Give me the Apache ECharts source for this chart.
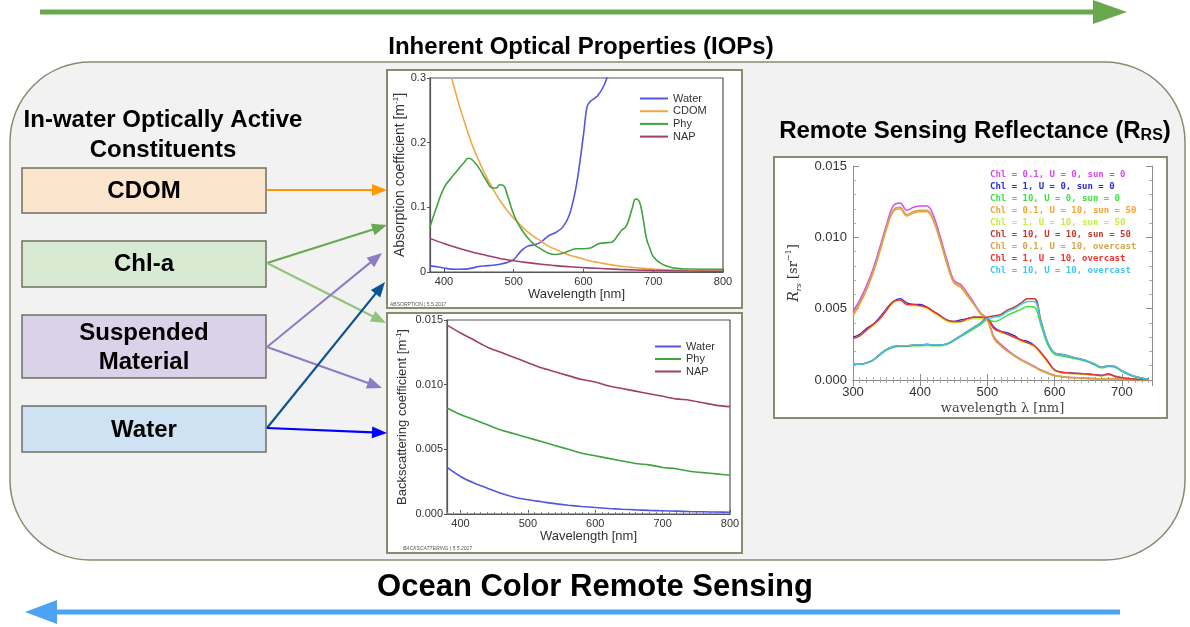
<!DOCTYPE html>
<html>
<head>
<meta charset="utf-8">
<title>Ocean Color Remote Sensing</title>
<script src="https://cdn.jsdelivr.net/npm/echarts@6/dist/echarts.min.js"></script>
<style>
  html, body { margin: 0; padding: 0; background: #ffffff; }
  #main { width: 1190px; height: 627px; }
</style>
</head>
<body>
<div id="main"></div>
<script>
// ---------- Absorption coefficients [m^-1] ----------
const absWaterWl = [380,390,400,410,420,430,440,450,460,470,480,490,500,510,520,530,540,550,560,570,580,590,600,605,610,620,630,640,650];
const absWater   = [0.0095,0.008,0.0062,0.0045,0.0043,0.0045,0.006,0.0085,0.0095,0.0105,0.012,0.0145,0.019,0.032,0.040,0.042,0.047,0.056,0.061,0.069,0.089,0.135,0.212,0.255,0.264,0.272,0.29,0.32,0.34];

const absCdomWl = [380,390,400,410,420,430,440,450,460,470,480,490,500,510,520,530,540,550,560,570,580,590,600,610,620,630,640,650,660,670,680,690,700,710,720,730,740,750,760,770,780,790,800];
const absCdom   = [0.47,0.41,0.355,0.305,0.265,0.23,0.198,0.172,0.149,0.129,0.111,0.096,0.083,0.072,0.062,0.054,0.047,0.040,0.035,0.030,0.026,0.023,0.020,0.017,0.015,0.013,0.011,0.0095,0.0082,0.0071,0.0062,0.0053,0.0046,0.004,0.0035,0.003,0.0026,0.0022,0.0019,0.0017,0.0014,0.0013,0.0011];

const absPhyWl = [380,390,400,410,420,430,435,440,450,460,470,475,480,485,490,500,510,520,530,540,550,560,570,580,590,600,610,620,630,640,650,655,660,665,670,675,680,685,690,695,700,710,720,730,750,800];
const absPhy   = [0.070,0.102,0.130,0.145,0.158,0.171,0.176,0.174,0.161,0.143,0.130,0.130,0.135,0.134,0.122,0.089,0.068,0.053,0.042,0.035,0.029,0.027,0.029,0.033,0.036,0.036,0.037,0.043,0.045,0.046,0.058,0.065,0.069,0.081,0.099,0.113,0.109,0.086,0.053,0.037,0.024,0.014,0.009,0.006,0.0046,0.004];

const absNapWl = [380,400,420,440,460,480,500,520,540,560,580,600,650,700,750,800];
const absNap   = [0.052,0.044,0.037,0.031,0.026,0.021,0.0175,0.0145,0.012,0.0098,0.0082,0.0068,0.0041,0.0025,0.0015,0.0009];

// ---------- Backscattering coefficients [m^-1] ----------
const bbWl    = [380,400,420,440,460,480,500,520,540,560,580,600,620,640,660,680,700,720,740,760,780,800];
const bbWater = [0.0036,0.0029,0.0024,0.0020,0.0016,0.0013,0.0011,0.00095,0.0008,0.00068,0.00058,0.0005,0.00043,0.00037,0.00032,0.00028,0.00025,0.00022,0.00019,0.00017,0.00015,0.00013];
const bbPhy   = [0.0082,0.0077,0.0073,0.0069,0.0065,0.0062,0.0059,0.0056,0.0053,0.0050,0.0047,0.0045,0.0043,0.0041,0.0039,0.0038,0.0036,0.0035,0.0033,0.0032,0.0031,0.0030];
const bbNap   = [0.0146,0.0140,0.01345,0.0129,0.0125,0.0121,0.0117,0.0113,0.0110,0.0107,0.0104,0.0102,0.0099,0.0097,0.0095,0.0093,0.0091,0.0089,0.0088,0.0086,0.0084,0.0083];

// ---------- Remote sensing reflectance [sr^-1] ----------
const rrsWl = [300,310,320,330,340,350,360,370,380,390,400,410,420,430,440,450,460,470,480,490,500,510,520,530,540,550,560,570,580,590,600,610,620,630,640,650,660,670,680,690,700,710,720,730,740];
const rrsChl01Clear    = [0.0048,0.0056,0.0066,0.0078,0.0093,0.0109,0.0122,0.0124,0.0119,0.0121,0.0122,0.0122,0.0115,0.0100,0.0084,0.0070,0.0067,0.0061,0.0054,0.0047,0.0043,0.0030,0.0025,0.0021,0.00175,0.00145,0.0012,0.00095,0.0007,0.0005,0.00032,0.00025,0.0002,0.00017,0.00015,0.00012,0.0001,0.00008,0.0001,0.00006,0.00005,0.00004,0.00003,0.00002,0.00002];
const rrsChl1Clear     = [0.0030,0.0032,0.0036,0.0039,0.0044,0.0050,0.0055,0.0057,0.0054,0.0053,0.0053,0.0051,0.0048,0.0045,0.0042,0.0041,0.0042,0.0043,0.0044,0.0044,0.0043,0.0037,0.0034,0.0033,0.0031,0.0028,0.0027,0.0024,0.0019,0.0013,0.0007,0.00055,0.0005,0.00047,0.00045,0.00042,0.00037,0.00032,0.00042,0.00026,0.00016,0.0001,0.00006,0.00004,0.00003];
const rrsChl10Clear    = [0.0011,0.0011,0.0012,0.0014,0.00175,0.0021,0.0023,0.00235,0.00235,0.0024,0.0024,0.00245,0.0024,0.0024,0.0025,0.00275,0.00305,0.0033,0.0036,0.0039,0.0042,0.0041,0.00425,0.00455,0.00475,0.00495,0.00515,0.0051,0.0038,0.00245,0.0018,0.0017,0.0016,0.0015,0.0014,0.00125,0.00105,0.00085,0.00095,0.0009,0.0006,0.00038,0.0002,0.0001,0.00006];
const rrsChl01Sun50    = [0.0045,0.0053,0.0063,0.0075,0.0090,0.0106,0.0118,0.0120,0.0115,0.0117,0.0118,0.0118,0.0111,0.0097,0.0081,0.0068,0.0065,0.0059,0.0053,0.0046,0.0042,0.0029,0.0024,0.0020,0.0017,0.0014,0.00115,0.0009,0.00065,0.00045,0.0003,0.00023,0.00018,0.00015,0.00013,0.0001,0.00009,0.00007,0.00009,0.00005,0.00004,0.00003,0.00002,0.00002,0.00001];
const rrsChl1Sun50     = [0.0029,0.0031,0.0035,0.0038,0.0043,0.0049,0.0054,0.0056,0.0053,0.0052,0.0052,0.0050,0.0047,0.0044,0.0041,0.0040,0.0041,0.0042,0.0043,0.0043,0.0042,0.0036,0.0033,0.0032,0.0030,0.0027,0.0026,0.0023,0.0018,0.0012,0.00065,0.0005,0.00045,0.00043,0.00041,0.00038,0.00033,0.00029,0.00038,0.00023,0.00014,0.00009,0.00005,0.00003,0.00002];
const rrsChl10Sun50    = [0.0011,0.0011,0.0012,0.0014,0.0018,0.00215,0.00235,0.0024,0.0024,0.00245,0.00245,0.0025,0.00245,0.00245,0.00255,0.0028,0.0031,0.0034,0.0037,0.0040,0.0044,0.0045,0.0046,0.0049,0.0051,0.0054,0.0057,0.0057,0.0041,0.0026,0.0019,0.0018,0.0017,0.00155,0.00145,0.0013,0.0011,0.0009,0.001,0.00095,0.00065,0.00042,0.00024,0.00013,0.00007];
const rrsChl01Overcast = [0.0046,0.0054,0.0064,0.0076,0.0091,0.0107,0.0119,0.0121,0.0116,0.0118,0.0119,0.0119,0.0112,0.0098,0.0082,0.0069,0.0066,0.0060,0.0053,0.0047,0.0042,0.0029,0.0024,0.0020,0.0017,0.0014,0.0012,0.0009,0.00068,0.00048,0.00031,0.00024,0.00019,0.00016,0.00014,0.00011,0.0001,0.00008,0.0001,0.00006,0.00005,0.00004,0.00003,0.00002,0.00002];
const rrsChl1Overcast  = [0.0029,0.0031,0.0035,0.0039,0.0043,0.0049,0.0055,0.0056,0.0053,0.0053,0.0052,0.0051,0.0048,0.0045,0.0042,0.0041,0.0041,0.0043,0.0044,0.0044,0.0043,0.0036,0.0034,0.0032,0.0030,0.0028,0.0026,0.0024,0.0019,0.0013,0.0007,0.00055,0.0005,0.00046,0.00044,0.00041,0.00036,0.00031,0.00041,0.00025,0.00015,0.0001,0.00006,0.00004,0.00003];
const rrsChl10Overcast = [0.0011,0.0011,0.0012,0.0014,0.0018,0.00215,0.00235,0.0024,0.0024,0.00245,0.00245,0.0025,0.00245,0.00245,0.00255,0.0028,0.0031,0.0034,0.0037,0.0040,0.0043,0.0044,0.0045,0.0048,0.0050,0.0053,0.0055,0.0055,0.0040,0.0026,0.0019,0.0018,0.0017,0.00155,0.00145,0.0013,0.0011,0.00088,0.001,0.00095,0.00065,0.00042,0.00024,0.00013,0.00007];

const rrsNames = [
  'Chl = 0.1, U = 0, sun = 0', 'Chl = 1, U = 0, sun = 0', 'Chl = 10, U = 0, sun = 0',
  'Chl = 0.1, U = 10, sun = 50', 'Chl = 1, U = 10, sun = 50', 'Chl = 10, U = 10, sun = 50',
  'Chl = 0.1, U = 10, overcast', 'Chl = 1, U = 10, overcast', 'Chl = 10, U = 10, overcast'
];
const rrsValues = [rrsChl01Clear, rrsChl1Clear, rrsChl10Clear, rrsChl01Sun50, rrsChl1Sun50, rrsChl10Sun50, rrsChl01Overcast, rrsChl1Overcast, rrsChl10Overcast];
const rrsColors = ['#dc48ee', '#2b2be0', '#3ee23e', '#f4a236', '#c6ee3c', '#c23a2e', '#d4a64c', '#f23030', '#3ec6f2'];

// ---------- Axis ticks ----------
const iopTicks = [400, 500, 600, 700, 800];

// ---------- helpers ----------
const zip = (xs, ys) => xs.map((x, i) => [x, ys[i]]);
const SANS = 'Liberation Sans, Arial, sans-serif';
const FRAME = '#8a8a6f';

function arrow(x1, y1, x2, y2, color, w, headLen, headHalf) {
  const dx = x2 - x1, dy = y2 - y1, len = Math.hypot(dx, dy);
  const ux = dx / len, uy = dy / len;
  const bx = x2 - ux * headLen, by = y2 - uy * headLen;
  return [
    { type: 'line', z: 20, shape: { x1, y1, x2: bx + ux, y2: by + uy }, style: { stroke: color, lineWidth: w } },
    { type: 'polygon', z: 20, shape: { points: [[x2, y2], [bx - uy * headHalf, by + ux * headHalf], [bx + uy * headHalf, by - ux * headHalf]] }, style: { fill: color } }
  ];
}

function label(text, x, y, size, extra) {
  return Object.assign({
    type: 'text', z: 20, x, y,
    style: { text, fontFamily: SANS, fontSize: size, fontWeight: 'bold', fill: '#000', align: 'center', verticalAlign: 'middle' }
  }, extra || {});
}

function box(x, y, w, h, fill) {
  return { type: 'rect', z: 5, shape: { x, y, width: w, height: h }, style: { fill, stroke: '#6f6f5f', lineWidth: 1.5 } };
}

const graphics = [
  // big rounded background
  { type: 'rect', z: -10, shape: { x: 10, y: 62, width: 1175, height: 498, r: 80 }, style: { fill: '#f2f2f2', stroke: FRAME, lineWidth: 1.5 } },
  // chart panels
  { type: 'rect', z: -9, shape: { x: 387, y: 70, width: 355, height: 238 }, style: { fill: '#ffffff', stroke: FRAME, lineWidth: 2 } },
  { type: 'rect', z: -9, shape: { x: 387, y: 313, width: 355, height: 240 }, style: { fill: '#ffffff', stroke: FRAME, lineWidth: 2 } },
  { type: 'rect', z: -9, shape: { x: 774, y: 157, width: 393, height: 261 }, style: { fill: '#ffffff', stroke: FRAME, lineWidth: 2 } },
  // top and bottom arrows
  { type: 'line', z: 20, shape: { x1: 40, y1: 12, x2: 1096, y2: 12 }, style: { stroke: '#6aa84f', lineWidth: 5 } },
  { type: 'polygon', z: 20, shape: { points: [[1093, 0], [1127, 12], [1093, 24]] }, style: { fill: '#6aa84f' } },
  { type: 'line', z: 20, shape: { x1: 1120, y1: 612, x2: 54, y2: 612 }, style: { stroke: '#4da3f3', lineWidth: 5 } },
  { type: 'polygon', z: 20, shape: { points: [[57, 600], [25, 612], [57, 624]] }, style: { fill: '#4da3f3' } },
  // headings
  label('Inherent Optical Properties (IOPs)', 581, 47, 24),
  label('Ocean Color Remote Sensing', 595, 587, 31),
  label('In-water Optically Active', 163, 120, 24),
  label('Constituents', 163, 150, 24),
  {
    type: 'text', z: 20, x: 975, y: 131,
    style: {
      text: '{a|Remote Sensing Reflectance (R}{s|RS}{a|)}',
      align: 'center', verticalAlign: 'middle', fill: '#000',
      rich: {
        a: { fontFamily: SANS, fontSize: 24, fontWeight: 'bold', lineHeight: 26, fill: '#000' },
        s: { fontFamily: SANS, fontSize: 16, fontWeight: 'bold', lineHeight: 16, verticalAlign: 'bottom', fill: '#000' }
      }
    }
  },
  // constituent boxes
  box(22, 168, 244, 45, '#fce5cd'),
  box(22, 241, 244, 46, '#d9ead3'),
  box(22, 315, 244, 63, '#d9d2e9'),
  box(22, 406, 244, 46, '#cfe2f3'),
  label('CDOM', 144, 191, 24),
  label('Chl-a', 144, 264, 24),
  label('Suspended', 144, 333, 24),
  label('Material', 144, 362, 24),
  label('Water', 144, 430, 24),
  // panel footers
  { type: 'text', z: 20, x: 390, y: 302, style: { text: 'ABSORPTION | 5.5.2017', fontFamily: SANS, fontSize: 5, fill: '#555' } },
  { type: 'text', z: 20, x: 403, y: 546, style: { text: 'BACKSCATTERING | 5.5.2017', fontFamily: SANS, fontSize: 5, fontStyle: 'italic', fill: '#555' } }
].concat(
  arrow(267, 190, 387, 190, '#ff9900', 2, 15, 6),
  arrow(267, 263, 387, 225, '#6aa84f', 2.2, 15, 6),
  arrow(267, 263, 386, 323, '#93c47d', 2.2, 15, 6),
  arrow(267, 347, 382, 253, '#8e7cc3', 2, 15, 6),
  arrow(267, 347, 382, 388, '#8e7cc3', 2, 15, 6),
  arrow(267, 428, 385, 282, '#0b5394', 2.2, 15, 6),
  arrow(267, 428, 387, 433, '#0000ff', 2.2, 15, 6)
);

// ---------- axes ----------
const iopAxisLine = { show: true, lineStyle: { color: '#555', width: 1.2 } };
const iopLabel = { color: '#333', fontFamily: SANS, fontSize: 11, margin: 4 };

const xAxes = [
  { // absorption wavelength
    gridIndex: 0, type: 'value', min: 380, max: 800,
    name: 'Wavelength [nm]', nameLocation: 'middle', nameGap: 15,
    nameTextStyle: { color: '#333', fontFamily: SANS, fontSize: 13 },
    axisLine: iopAxisLine, splitLine: { show: false },
    axisTick: { show: true, inside: true, length: 3, customValues: iopTicks, lineStyle: { color: '#555' } },
    axisLabel: Object.assign({ customValues: iopTicks }, iopLabel)
  },
  { // backscattering wavelength
    gridIndex: 1, type: 'value', min: 380, max: 800,
    name: 'Wavelength [nm]', nameLocation: 'middle', nameGap: 16,
    nameTextStyle: { color: '#333', fontFamily: SANS, fontSize: 13 },
    axisLine: iopAxisLine, splitLine: { show: false },
    axisTick: { show: true, inside: true, length: 4, customValues: iopTicks, lineStyle: { color: '#555' } },
    axisLabel: Object.assign({ customValues: iopTicks }, iopLabel)
  },
  { // backscattering minor ticks
    gridIndex: 1, type: 'value', min: 380, max: 800, interval: 10, position: 'bottom',
    axisLine: { show: false }, splitLine: { show: false }, axisLabel: { show: false },
    axisTick: { show: true, inside: true, length: 2, lineStyle: { color: '#888' } }
  },
  { // Rrs wavelength
    gridIndex: 2, type: 'value', min: 300, max: 745, interval: 100,
    name: 'wavelength λ [nm]', nameLocation: 'middle', nameGap: 22,
    nameTextStyle: { color: '#444', fontFamily: 'DejaVu Serif, serif', fontSize: 13 },
    axisLine: { show: true, lineStyle: { color: '#8c8c8c', width: 1 } },
    splitLine: { show: false },
    axisTick: { show: true, inside: true, length: 6, lineStyle: { color: '#8c8c8c' } },
    minorTick: { show: true, splitNumber: 10, length: 3, lineStyle: { color: '#aaa' } },
    axisLabel: { color: '#333', fontFamily: SANS, fontSize: 13, margin: 6, showMaxLabel: false }
  },
  { // Rrs top frame
    gridIndex: 2, type: 'value', min: 300, max: 745, interval: 100, position: 'top',
    axisLine: { show: true, lineStyle: { color: '#8c8c8c', width: 1 } },
    splitLine: { show: false }, axisLabel: { show: false },
    axisTick: { show: true, inside: true, length: 6, lineStyle: { color: '#8c8c8c' } },
    minorTick: { show: true, splitNumber: 10, length: 3, lineStyle: { color: '#aaa' } }
  }
];

const yAxes = [
  { // absorption
    gridIndex: 0, type: 'value', min: 0, max: 0.3, interval: 0.1,
    name: '{a|Absorption coefficient [m}{s|-1}{a|]}', nameLocation: 'middle', nameGap: 20,
    nameTextStyle: { rich: {
      a: { color: '#333', fontFamily: SANS, fontSize: 14, lineHeight: 16 },
      s: { color: '#333', fontFamily: SANS, fontSize: 8, lineHeight: 8, verticalAlign: 'top' }
    } },
    axisLine: iopAxisLine, splitLine: { show: false },
    axisTick: { show: true, length: 3, lineStyle: { color: '#555' } },
    axisLabel: iopLabel
  },
  { // backscattering
    gridIndex: 1, type: 'value', min: 0, max: 0.015, interval: 0.005,
    name: '{a|Backscattering coefficient [m}{s|-1}{a|]}', nameLocation: 'middle', nameGap: 37,
    nameTextStyle: { rich: {
      a: { color: '#333', fontFamily: SANS, fontSize: 13, lineHeight: 15 },
      s: { color: '#333', fontFamily: SANS, fontSize: 8, lineHeight: 8, verticalAlign: 'top' }
    } },
    axisLine: iopAxisLine, splitLine: { show: false },
    axisTick: { show: true, length: 3, lineStyle: { color: '#555' } },
    axisLabel: Object.assign({ formatter: v => v.toFixed(3) }, iopLabel)
  },
  { // Rrs
    gridIndex: 2, type: 'value', min: 0, max: 0.015, interval: 0.005,
    name: '{i|R}{s|rs}{n| [sr}{p|−1}{n|]}', nameLocation: 'middle', nameGap: 50,
    nameTextStyle: { rich: {
      i: { color: '#333', fontFamily: 'DejaVu Serif, serif', fontStyle: 'italic', fontSize: 14, lineHeight: 18 },
      s: { color: '#333', fontFamily: 'DejaVu Serif, serif', fontStyle: 'italic', fontSize: 8, lineHeight: 8, verticalAlign: 'bottom' },
      n: { color: '#333', fontFamily: 'DejaVu Serif, serif', fontSize: 13, lineHeight: 18 },
      p: { color: '#333', fontFamily: 'DejaVu Serif, serif', fontSize: 8, lineHeight: 8, verticalAlign: 'top' }
    } },
    axisLine: { show: true, lineStyle: { color: '#8c8c8c', width: 1 } },
    splitLine: { show: false },
    axisTick: { show: true, inside: true, length: 6, lineStyle: { color: '#8c8c8c' } },
    minorTick: { show: true, splitNumber: 5, length: 3, lineStyle: { color: '#aaa' } },
    axisLabel: { color: '#333', fontFamily: SANS, fontSize: 13, margin: 6, formatter: v => v.toFixed(3) }
  },
  { // Rrs right frame
    gridIndex: 2, type: 'value', min: 0, max: 0.015, interval: 0.005, position: 'right',
    axisLine: { show: true, lineStyle: { color: '#8c8c8c', width: 1 } },
    splitLine: { show: false }, axisLabel: { show: false },
    axisTick: { show: true, inside: true, length: 6, lineStyle: { color: '#8c8c8c' } },
    minorTick: { show: true, splitNumber: 5, length: 3, lineStyle: { color: '#aaa' } }
  }
];

// ---------- series ----------
function line(name, xi, yi, data, color, width, smooth) {
  return {
    type: 'line', name, xAxisIndex: xi, yAxisIndex: yi, data,
    symbol: 'none', smooth: smooth || false, clip: true, silent: true,
    lineStyle: { color, width }, itemStyle: { color }
  };
}

const C_WATER = '#5555e3', C_CDOM = '#f2a64a', C_PHY = '#3fa33f', C_NAP = '#9e3f6c';

const series = [
  line('Water', 0, 0, zip(absWaterWl, absWater), C_WATER, 1.6, 0.3),
  line('CDOM', 0, 0, zip(absCdomWl, absCdom), C_CDOM, 1.6, 0.3),
  line('Phy', 0, 0, zip(absPhyWl, absPhy), C_PHY, 1.6, 0.5),
  line('NAP', 0, 0, zip(absNapWl, absNap), C_NAP, 1.6, 0.3),
  line('Water', 1, 1, zip(bbWl, bbWater), C_WATER, 1.6, 0.3),
  line('Phy', 1, 1, zip(bbWl, bbPhy), C_PHY, 1.6, 0.3),
  line('NAP', 1, 1, zip(bbWl, bbNap), C_NAP, 1.6, 0.3)
].concat(rrsNames.map((n, i) => line(n, 3, 2, zip(rrsWl, rrsValues[i]), rrsColors[i], 1.5, 0.4)));

const legendText = { color: '#333', fontFamily: SANS, fontSize: 11 };

const option = {
  backgroundColor: '#ffffff',
  animation: false,
  grid: [
    { left: 430, right: 1190 - 723, top: 78, bottom: 627 - 272, show: true, borderColor: '#555', borderWidth: 1.2, containLabel: false },
    { left: 447, right: 1190 - 730, top: 320, bottom: 627 - 514, show: true, borderColor: '#555', borderWidth: 1.2, containLabel: false },
    { left: 853, right: 1190 - 1152, top: 166, bottom: 627 - 380, show: false, containLabel: false }
  ],
  xAxis: xAxes,
  yAxis: yAxes,
  legend: [
    {
      data: ['Water', 'CDOM', 'Phy', 'NAP'], orient: 'vertical', left: 635, top: 88,
      icon: 'rect', itemWidth: 28, itemHeight: 2, itemGap: 1.7, selectedMode: false, textStyle: legendText
    },
    {
      data: ['Water', 'Phy', 'NAP'], orient: 'vertical', left: 650, top: 336,
      icon: 'rect', itemWidth: 26, itemHeight: 2, itemGap: 1.5, selectedMode: false, textStyle: legendText
    },
    {
      data: rrsNames.map((n, i) => ({ name: n, textStyle: { color: rrsColors[i] } })),
      orient: 'vertical', left: 980, top: 165, icon: 'rect', itemWidth: 0, itemHeight: 9, itemGap: 3,
      selectedMode: false,
      textStyle: { fontFamily: 'DejaVu Sans Mono, monospace', fontWeight: 'bold', fontSize: 9 }
    }
  ],
  graphic: { elements: graphics },
  series
};

const chart = echarts.init(document.getElementById('main'), null, { renderer: 'canvas' });
chart.setOption(option);
</script>
</body>
</html>
